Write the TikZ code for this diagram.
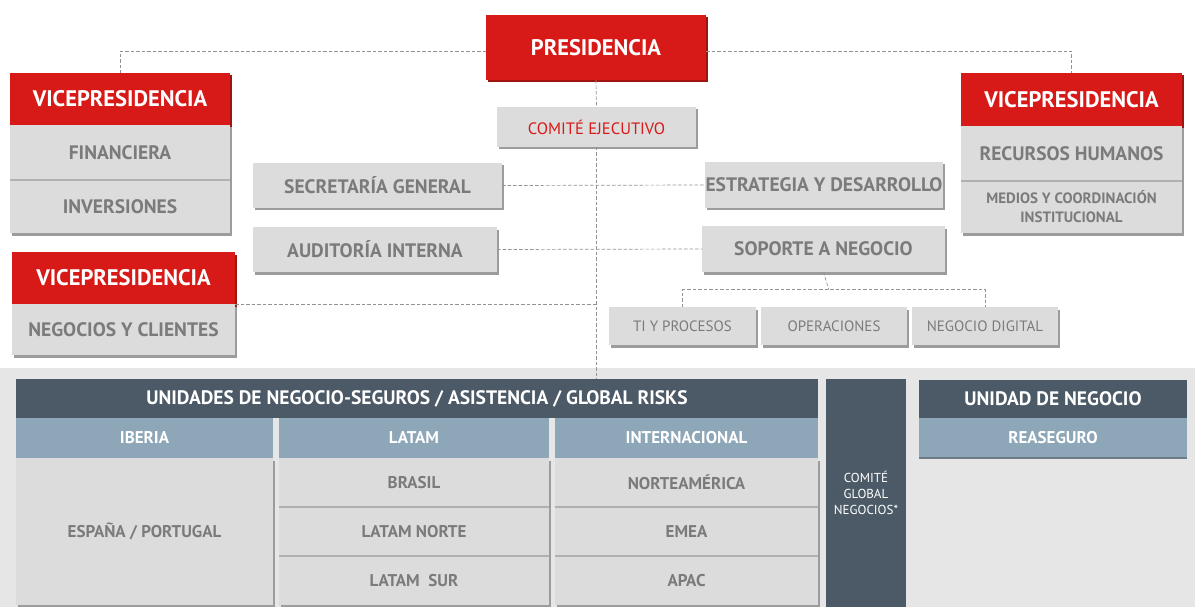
\documentclass[tikz,border=0pt]{standalone}
\usepackage{fontspec}
\setmainfont{PT Sans}
\usetikzlibrary{calc,shadows}
\definecolor{orgred}{HTML}{D71A17}
\definecolor{orgredshade}{HTML}{9E1410}
\definecolor{orggray}{HTML}{DCDCDC}
\definecolor{orgshade}{HTML}{9C9C9C}
\definecolor{orgtext}{HTML}{7B7B7B}
\definecolor{orgdark}{HTML}{4B5A66}
\definecolor{orgblue}{HTML}{8DA6B8}
\definecolor{orgband}{HTML}{E6E6E6}
\tikzset{
  orgnode/.style={inner sep=0pt, outer sep=0pt, align=center},
  redbox/.style={orgnode, fill=orgred, text=white,
    font=\bfseries\fontsize{22.5}{25}\selectfont,
    drop shadow={shadow xshift=1.5pt, shadow yshift=-2.5pt, fill=orgredshade, opacity=1}},
  graybox/.style={orgnode, fill=orggray, text=orgtext,
    font=\bfseries\fontsize{19.5}{22}\selectfont,
    drop shadow={shadow xshift=1.5pt, shadow yshift=-2.5pt, fill=orgshade, opacity=1}},
  smallbox/.style={graybox, font=\fontsize{15}{17}\selectfont},
  cellbox/.style={graybox, font=\bfseries\fontsize{17}{20}\selectfont},
  darkhead/.style={orgnode, fill=orgdark, text=white,
    font=\bfseries\fontsize{19.5}{22}\selectfont},
  bluehead/.style={orgnode, fill=orgblue, text=white,
    font=\bfseries\fontsize{17}{20}\selectfont,
    drop shadow={shadow xshift=0pt, shadow yshift=-2pt, fill=orgdark!80, opacity=1}},
  seprule/.style={draw=orgshade!80, line width=1.2pt},
  link/.style={draw=gray!85, dash pattern=on 3.5pt off 2pt, line width=0.7pt}
}
\newcommand*{\PlaceBoxes}[2]{% #1 = style, #2 = list of name/x1/y1/x2/y2/text
  \foreach \n/\xa/\ya/\xb/\yb/\t in {#2} {
    \node [#1, minimum width={(\xb-\xa)*1pt}, minimum height={(\yb-\ya)*1pt}]
      (\n) at ({(\xa+\xb)/2},{(\ya+\yb)/2}) {\t};
  }%
}

\begin{document}
\begin{tikzpicture}[x=1pt,y=-1pt]
    \useasboundingbox (0,0) rectangle (1195,607);
    \fill[orgband] (0,368) rectangle (1195,607);

    % upper part
    \PlaceBoxes{redbox}{pres/486/15/706/80/PRESIDENCIA,
      vpl/10/73/230/125/VICEPRESIDENCIA,
      vpr/961/73/1182/126/VICEPRESIDENCIA,
      vpn/12/252/235/304/VICEPRESIDENCIA}
    \PlaceBoxes{graybox}{fin/10/125/230/180/FINANCIERA,
      inv/10/180/230/233/INVERSIONES,
      rrhh/961/126/1182/181/RECURSOS HUMANOS,
      neg/12/304/235/355/NEGOCIOS Y CLIENTES,
      sec/253/163/502/208/SECRETARÍA GENERAL,
      aud/253/227/497/272/AUDITORÍA INTERNA,
      estr/705/162/943/208/ESTRATEGIA Y DESARROLLO,
      sop/702/226/945/272/SOPORTE A NEGOCIO}
    \PlaceBoxes{graybox, font=\bfseries\fontsize{15}{19}\selectfont}{%
      med/961/181/1182/233/MEDIOS Y COORDINACIÓN\\INSTITUCIONAL}
    \PlaceBoxes{graybox, text=orgred, font=\fontsize{16.5}{19}\selectfont}{%
      comite/497/107/696/147/COMITÉ EJECUTIVO}
    \PlaceBoxes{smallbox}{ti/609/307/756/345/TI Y PROCESOS,
      oper/761/307/907/345/OPERACIONES,
      dig/912/307/1058/345/NEGOCIO DIGITAL}

    % business units
    \PlaceBoxes{darkhead}{unid/16/379/818/418/{UNIDADES DE NEGOCIO-SEGUROS / ASISTENCIA / GLOBAL RISKS},
      unr/919/380/1187/418/UNIDAD DE NEGOCIO}
    \PlaceBoxes{darkhead, font=\fontsize{13}{16}\selectfont}{%
      cgn/826/379/906/607/COMITÉ\\GLOBAL\\NEGOCIOS*}
    \PlaceBoxes{bluehead}{ibe/16/418/273/458/IBERIA,
      lat/279/418/549/458/LATAM,
      intl/555/418/818/458/INTERNACIONAL,
      rea/919/418/1187/457/REASEGURO}
    \PlaceBoxes{cellbox}{esp/16/458/273/605/{ESPAÑA / PORTUGAL},
      bra/279/458/549/507/BRASIL,
      lnor/279/507/549/556/LATAM NORTE,
      lsur/279/556/549/605/LATAM\ \ SUR,
      nor/555/458/818/507/NORTEAMÉRICA,
      emea/555/507/818/556/EMEA,
      apac/555/556/818/605/APAC}
    \foreach \c in {inv,med,lnor,lsur,emea,apac}
      \draw[seprule] (\c.north west) -- (\c.north east);

    % connectors
    \draw[link] ([yshift=-4pt]pres.west) -| (vpl.north);
    \draw[link] ([yshift=-4pt]pres.east) -| (vpr.north);
    \draw[link] (pres.south) -- (comite.north);
    \draw[link] (comite.south) -- (comite.south |- unid.north);
    \draw[link] (sec.east) -- (estr.west);
    \draw[link] (aud.east) -- (sop.west);
    \draw[link] (vpn.south east) -- (vpn.south east -| comite.south);
    \coordinate (split) at ($(sop.south)!.5!(oper.north)$);
    \draw[link] (sop.south) -- (split);
    \draw[link] (ti.north) |- (split) -| (dig.north);
\end{tikzpicture}
\end{document}
